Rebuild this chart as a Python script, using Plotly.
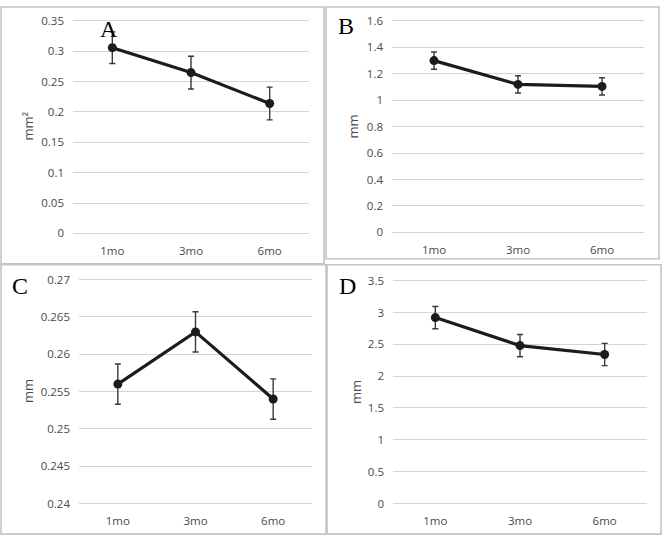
import plotly.graph_objects as go

W, H = 667, 547

categories = ["1mo", "3mo", "6mo"]

a_values = [0.306, 0.265, 0.214]
a_errors = [0.026, 0.027, 0.027]
b_values = [1.30, 1.12, 1.105]
b_errors = [0.065, 0.065, 0.065]
c_values = [0.256, 0.263, 0.254]
c_errors = [0.0027, 0.0027, 0.0027]
d_values = [2.92, 2.48, 2.34]
d_errors = [0.175, 0.175, 0.175]

a_ticks = [0, 0.05, 0.1, 0.15, 0.2, 0.25, 0.3, 0.35]
a_ticklabels = ["0", "0.05", "0.1", "0.15", "0.2", "0.25", "0.3", "0.35"]
b_ticks = [0, 0.2, 0.4, 0.6, 0.8, 1.0, 1.2, 1.4, 1.6]
b_ticklabels = ["0", "0.2", "0.4", "0.6", "0.8", "1", "1.2", "1.4", "1.6"]
c_ticks = [0.24, 0.245, 0.25, 0.255, 0.26, 0.265, 0.27]
c_ticklabels = ["0.24", "0.245", "0.25", "0.255", "0.26", "0.265", "0.27"]
d_ticks = [0, 0.5, 1, 1.5, 2, 2.5, 3, 3.5]
d_ticklabels = ["0", "0.5", "1", "1.5", "2", "2.5", "3", "3.5"]

panel_letters = ["A", "B", "C", "D"]
axis_titles = ["mm²", "mm", "mm", "mm"]


def fx(p):
    return p / W


def fy(p):
    return 1 - p / H


TICK_FONT = dict(family="Open Sans", size=11.5, color="#4a4a4a")
TITLE_FONT = dict(family="Open Sans", size=13, color="#4a4a4a")
LINE_COLOR = "#1c1c1c"
GRID = "#d4d4d4"
PAD = 2  # px of padding so the edge gridlines are drawn

panels = [
    (a_values, a_errors, a_ticks, a_ticklabels, (73, 309), (15.3, 232), (109, 23), (28, 123)),
    (b_values, b_errors, b_ticks, b_ticklabels, (392, 644), (15.3, 231), (346, 20.5), (353, 123)),
    (c_values, c_errors, c_ticks, c_ticklabels, (79, 312), (279.3, 507.7), (20, 285.5), (28, 393)),
    (d_values, d_errors, d_ticks, d_ticklabels, (393, 647), (280.3, 507.7), (347, 285.5), (356, 394)),
]

fig = go.Figure()
layout = dict(
    width=W, height=H, margin=dict(l=0, r=0, t=0, b=0),
    paper_bgcolor="white", plot_bgcolor="white", showlegend=False,
    annotations=[], shapes=[],
)

for i, (vals, errs, ticks, labels, xd, yd, lpos, tpos) in enumerate(panels):
    n = "" if i == 0 else str(i + 1)
    span = ticks[-1] - ticks[0]
    pxh = yd[1] - yd[0]
    eps = span * PAD / pxh
    fig.add_trace(go.Scatter(
        x=categories, y=vals, mode="lines+markers",
        line=dict(color=LINE_COLOR, width=3.2),
        marker=dict(color=LINE_COLOR, size=9),
        error_y=dict(type="data", array=errs, visible=True,
                     color="#3a3a3a", thickness=1.4, width=3),
        xaxis="x" + n, yaxis="y" + n,
    ))
    layout["xaxis" + n] = dict(
        domain=[fx(xd[0]), fx(xd[1])], anchor="y" + n,
        type="category", range=[-0.5, 2.5],
        showgrid=False, zeroline=False, showline=False, ticks="",
        tickfont=TICK_FONT, ticklabelstandoff=7, fixedrange=True,
    )
    layout["yaxis" + n] = dict(
        domain=[fy(yd[1] + PAD), fy(yd[0] - PAD)], anchor="x" + n,
        range=[ticks[0] - eps, ticks[-1] + eps],
        tickvals=ticks, ticktext=labels,
        showgrid=True, gridcolor=GRID, gridwidth=1,
        zeroline=False, showline=False, ticks="",
        tickfont=TICK_FONT, ticklabelstandoff=8, fixedrange=True,
    )
    layout["annotations"].append(dict(
        text=panel_letters[i], x=fx(lpos[0]), y=fy(lpos[1]),
        xref="paper", yref="paper", xanchor="center", yanchor="middle",
        showarrow=False, font=dict(family="Liberation Serif", size=24, color="black"),
    ))
    layout["annotations"].append(dict(
        text=axis_titles[i], x=fx(tpos[0]), y=fy(tpos[1]),
        xref="paper", yref="paper", xanchor="center", yanchor="middle",
        textangle=-90, showarrow=False, font=TITLE_FONT,
    ))

frames = [(1, 1, 324, 263), (326, 1, 659, 258), (1, 264, 326, 539), (327, 264, 661, 539)]
for (x0, y0, x1, y1) in frames:
    layout["shapes"].append(dict(
        type="rect", xref="paper", yref="paper",
        x0=fx(x0), x1=fx(x1), y0=fy(y1), y1=fy(y0),
        line=dict(color="#c4c4c4", width=1.6), layer="below",
    ))

fig.update_layout(**layout)
fig.write_html("out.html")
